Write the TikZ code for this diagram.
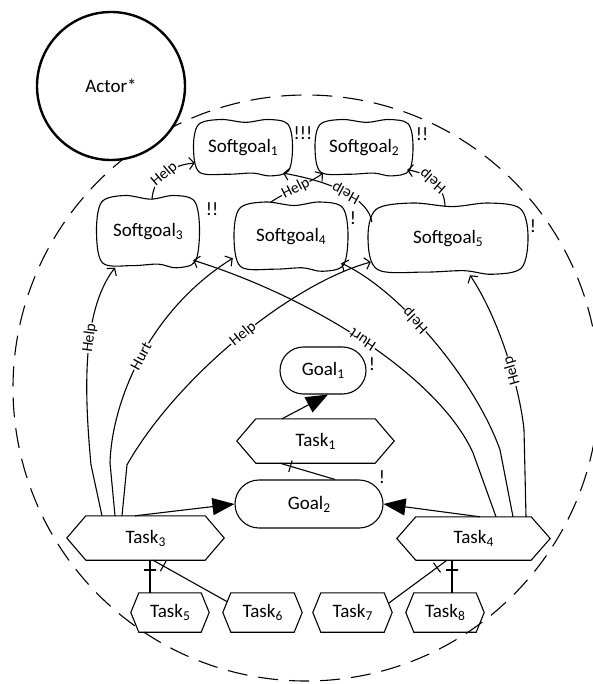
\documentclass[tikz,border=0pt]{standalone}
\usepackage{fontspec}
\setmainfont{Carlito}
\usetikzlibrary{shapes.misc,arrows.meta,calc}

% lowered index after an element name
\newcommand\subnum[1]{\raisebox{-3pt}{\fontsize{13.5}{15}\selectfont #1}}

% wavy cloud outline around a softgoal node: name, half width, half height
\newcommand\softgoaloutline[3]{%
  \begin{scope}[shift={(#1.center)}, xscale=#2, yscale=#3]
    \draw[line width=1.1pt] plot[smooth cycle, tension=0.55] coordinates {
      (-1.0,0.0) (-0.9,-0.82) (-0.45,-1.0) (0.05,-0.9) (0.5,-1.0)
      (0.9,-0.85) (1.0,-0.1) (0.92,0.8) (0.55,0.98) (0.2,0.88)
      (-0.3,0.92) (-0.88,0.85)};
  \end{scope}}

% hexagonal task outline: name, horizontal inset of the pointed ends
\newcommand\taskoutline[2]{%
  \draw[line width=1.1pt, line join=miter] (#1.west) -- ($(#1.north west)+(#2,0)$)
    -- ($(#1.north east)+(-#2,0)$) -- (#1.east) -- ($(#1.south east)+(-#2,0)$)
    -- ($(#1.south west)+(#2,0)$) -- cycle;}

\begin{document}
\begin{tikzpicture}[x=1pt,y=-1pt,
  txt/.style={font=\fontsize{19}{22}\selectfont, inner sep=0pt},
  stroke/.style={line width=1.1pt},
  actornode/.style={txt, circle, draw, line width=2.4pt, fill=white, minimum size=148pt},
  boundarynode/.style={circle, draw, line width=1.1pt, dash pattern=on 20pt off 11pt,
                       minimum size=586pt, inner sep=0pt},
  goal/.style={txt, rounded rectangle, draw, stroke},
  prio/.style={txt},
  lbl/.style={font=\fontsize{15.5}{17}\selectfont, fill=white, inner sep=0.8pt,
              sloped, allow upside down},
  contrib/.style={stroke, -{Straight Barb[length=5pt,width=12pt]}},
  meansend/.style={stroke, -{Triangle[length=22pt,width=17pt]}},
  decomp/.style={stroke},
  dtick/.style={draw, stroke, rectangle, minimum width=0pt, minimum height=12pt,
                inner sep=0pt, sloped},
]
\useasboundingbox (0,0) rectangle (592,684);

% actor boundary and actor
\node[boundarynode] (boundary) at (306,388) {};
\node[actornode] (actor) at (111,86) {Actor*};

% softgoals
\node[txt, minimum width=99pt, minimum height=57pt] (sg1) at (243,148) {Softgoal\subnum{1}};
\node[txt, minimum width=98pt, minimum height=57pt] (sg2) at (364,148) {Softgoal\subnum{2}};
\node[txt, minimum width=103pt, minimum height=73pt] (sg3) at (148,232) {Softgoal\subnum{3}};
\node[txt, minimum width=114pt, minimum height=70pt] (sg4) at (291,237) {Softgoal\subnum{4}};
\node[txt, minimum width=160pt, minimum height=72pt] (sg5) at (448,239) {Softgoal\subnum{5}};
\softgoaloutline{sg1}{49.5}{28.5}
\softgoaloutline{sg2}{49}{28.5}
\softgoaloutline{sg3}{51.5}{36.5}
\softgoaloutline{sg4}{57}{35}
\softgoaloutline{sg5}{80}{36}

% goals
\node[goal, minimum width=86pt, minimum height=47pt] (g1) at (323,370.5) {Goal\subnum{1}};
\node[goal, minimum width=148pt, minimum height=48pt] (g2) at (309,504) {Goal\subnum{2}};

% tasks
\node[txt, minimum width=157pt, minimum height=44pt] (t1) at (315.5,441) {Task\subnum{1}};
\node[txt, minimum width=157pt, minimum height=44pt] (t3) at (145.5,538) {Task\subnum{3}};
\node[txt, minimum width=153pt, minimum height=43pt] (t4) at (473.5,538.5) {Task\subnum{4}};
\node[txt, minimum width=78pt, minimum height=39pt] (t5) at (170,612.5) {Task\subnum{5}};
\node[txt, minimum width=79pt, minimum height=39pt] (t6) at (262.5,612.5) {Task\subnum{6}};
\node[txt, minimum width=79pt, minimum height=39pt] (t7) at (352.5,612.5) {Task\subnum{7}};
\node[txt, minimum width=78pt, minimum height=39pt] (t8) at (445,612.5) {Task\subnum{8}};
\taskoutline{t1}{19}
\taskoutline{t3}{19}
\taskoutline{t4}{19}
\taskoutline{t5}{8}
\taskoutline{t6}{8}
\taskoutline{t7}{8}
\taskoutline{t8}{8}

% priority marks
\node[prio] (p1) at (303,133) {!!!};
\node[prio] (p2) at (422,134) {!!};
\node[prio] (p3) at (212,209) {!!};
\node[prio] (p4) at (353,218) {!};
\node[prio] (p5) at (533,226) {!};
\node[prio] (p6) at (372,364) {!};
\node[prio] (p7) at (382,477) {!};

% contributions between softgoals
\draw[contrib] ($(sg3.north)+(4,4)$) .. controls +(1,-20) and +(-25,2) ..
  ($(sg1.west)+(1.5,15)$) node[lbl, pos=0.5] (l1) {Help};
\draw[contrib] ($(sg4.north)+(-21,1)$) .. controls +(10,-8) and +(-12,9) ..
  ($(sg2.south)+(-41,-3.5)$) node[lbl, pos=0.5] (l2) {Help};
\draw[contrib] ($(sg5.west)+(4,-17)$) .. controls +(-3,-22) and +(52,9) ..
  ($(sg1.south east)+(-9.5,-3.5)$) node[lbl, pos=0.5] (l3) {Help};
\draw[contrib] ($(sg5.north)+(-3,4)$) .. controls +(0,-22) and +(18,2) ..
  ($(sg2.east)+(-6,22)$) node[lbl, pos=0.5] (l4) {Help};

% contributions from Task3
\draw[contrib] ($(t3.north)+(-43.5,0)$) -- ++(-11,-51) .. controls +(-7,-75) and +(-33,42.5) ..
  ($(sg3.south)+(-33,-1)$) node[lbl, pos=0.58] (l5) {Help};
\draw[contrib] ($(t3.north)+(-30.5,0)$) -- ++(-5,-53) .. controls +(2,-63) and +(-83,52) ..
  ($(sg4.south west)+(-1,-14)$) node[lbl, pos=0.5] (l6) {Hurt};
\draw[contrib] ($(t3.north)+(-23.5,0)$) -- ++(5,-51) .. controls +(50,-88) and +(-80,22) ..
  ($(sg5.west)+(3,23)$) node[lbl, pos=0.52] (l7) {Help};

% contributions from Task4
\draw[contrib] ($(t4.north)+(22.5,0)$) -- ++(-23,-64) .. controls +(-33,-73) and +(127,40) ..
  ($(sg3.south east)+(-6.5,-8.5)$) node[lbl, pos=0.52] (l8) {Hurt};
\draw[contrib] ($(t4.north)+(39.5,0)$) -- ++(-13,-67) .. controls +(-25,-70) and +(59,27) ..
  ($(sg4.south east)+(-7,-9)$) node[lbl, pos=0.6] (l9) {Help};
\draw[contrib] ($(t4.north)+(52.5,0)$) -- ++(-2,-87) .. controls +(-4,-40) and +(30,45) ..
  ($(sg5.south)+(22,0)$) node[lbl, pos=0.4] (l10) {Help};

% means-end links
\draw[meansend] ($(t1.north)+(-33.5,0)$) -- ($(g1.south)+(5,0)$);
\draw[meansend] ($(t3.north)+(-10.5,0)$) -- (g2.west);
\draw[meansend] ($(t4.north)+(6.5,0)$) -- (g2.east);

% decomposition links
\draw[decomp] ($(t1.south)+(-35.5,0)$) -- ($(g2.north)+(26,0)$) node[dtick, pos=0.19] (k1) {};
\draw[decomp] ($(t3.south)+(4.5,0)$) -- ($(t5.north)+(-20,0)$) node[dtick, pos=0.3] (k2) {};
\draw[decomp] ($(t3.south)+(7.5,0)$) -- ($(t6.west)+(4,-11)$) node[dtick, pos=0.14] (k3) {};
\draw[decomp] ($(t4.south)+(-26.5,0)$) -- ($(t7.east)+(-4,-9)$) node[dtick, pos=0.17] (k4) {};
\draw[decomp] ($(t4.south)+(-21.5,0)$) -- ($(t8.north)+(7,0)$) node[dtick, pos=0.3] (k5) {};
\end{tikzpicture}
\end{document}
